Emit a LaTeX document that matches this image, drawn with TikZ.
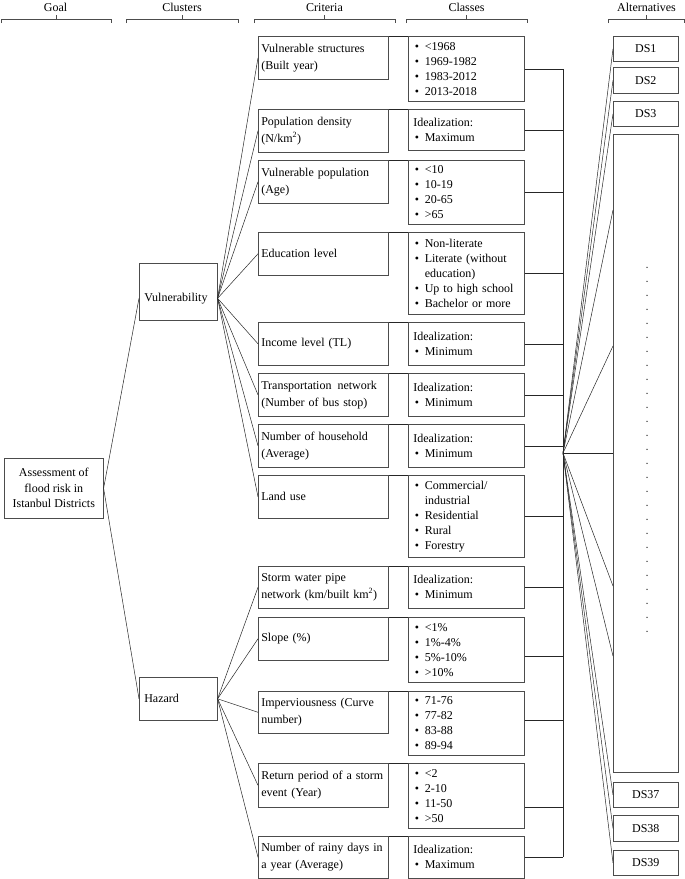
\documentclass[tikz,border=0pt]{standalone}
\usepackage{fontspec}
\setmainfont{Liberation Serif}
\usetikzlibrary{calc}
\newcommand{\bu}{\makebox[11.5pt][l]{\hspace{1.5pt}\textbullet}}
\begin{document}
\begin{tikzpicture}[x=1pt,y=-1pt,
  box/.style={draw=black!70, line width=0.6pt, rectangle, inner ysep=0pt},
  crit/.style={box, anchor=north west, inner xsep=3pt, text width=124pt, align=left,
    font=\fontsize{12}{16.7}\selectfont},
  cls/.style={box, anchor=north west, inner xsep=5pt, text width=106pt, align=left,
    font=\fontsize{12}{15}\selectfont},
  clu/.style={box, anchor=north west, inner xsep=5pt, text width=68pt, align=left,
    font=\fontsize{12}{15}\selectfont},
  alt/.style={box, anchor=north west, minimum width=65pt, inner xsep=0pt,
    font=\fontsize{12}{14}\selectfont},
  hdr/.style={anchor=base, inner sep=0pt, font=\fontsize{12}{14}\selectfont},
  con/.style={draw=black!85, line width=0.5pt},
  brk/.style={draw=black!70, line width=0.6pt}
]
\useasboundingbox (0,0) rectangle (685,879);

% headers
\node[hdr] (hgoal) at (55.5,11.5) {Goal};
\node[hdr] (hclu) at (182,11.5) {Clusters};
\node[hdr] (hcri) at (324.5,11.5) {Criteria};
\node[hdr] (hcla) at (466.5,11.5) {Classes};
\node[hdr] (halt) at (646.5,11.5) {Alternatives};
\foreach \a/\b in {1/111,126/238,254/395,406/527,608/684}{
  \draw[brk] (\a,23) -- (\a,19) -- (\b,19) -- (\b,23);
  \draw[brk] ({(\a+\b)/2},19) -- ({(\a+\b)/2},15);
}

% goal and clusters
\node[box, anchor=north west, minimum width=99pt, minimum height=60pt, align=center,
  inner xsep=2pt, font=\fontsize{12}{15.5}\selectfont] (goal) at (4,458)
  {Assessment of\\flood risk in\\Istanbul Districts};
\node[clu, minimum height=57pt, text height=21pt, text depth=2.5pt] (vul) at (139,263) {Vulnerability};
\node[clu, minimum height=43pt] (haz) at (139,677) {Hazard};

% criteria
\node[crit, minimum height=43pt] (c1) at (258,36) {Vulnerable structures\\(Built year)};
\node[crit, minimum height=43pt] (c2) at (258,109) {Population density\\(N/km\textsuperscript{2})};
\node[crit, minimum height=43pt] (c3) at (258,160) {Vulnerable population\\(Age)};
\node[crit, minimum height=43pt] (c4) at (258,232) {Education level};
\node[crit, minimum height=43pt] (c5) at (258,322) {Income level (TL)};
\node[crit, minimum height=43pt] (c6) at (258,373) {Transportation\hspace{6pt}network\\(Number of bus stop)};
\node[crit, minimum height=43pt] (c7) at (258,424) {Number of household\\(Average)};
\node[crit, minimum height=43pt] (c8) at (258,475) {Land use};
\node[crit, minimum height=42pt] (c9) at (258,566) {Storm water pipe\\network (km/built km\textsuperscript{2})};
\node[crit, minimum height=43pt] (c10) at (258,617) {Slope (\%)};
\node[crit, minimum height=42pt] (c11) at (258,691) {Imperviousness (Curve\\number)};
\node[crit, minimum height=44pt] (c12) at (258,763) {Return period of a storm\\event (Year)};
\node[crit, minimum height=42pt] (c13) at (258,836) {Number of rainy days in\\a year (Average)};

% classes
\node[cls, minimum height=65pt] (k1) at (408,36) {\bu <1968\\\bu 1969-1982\\\bu 1983-2012\\\bu 2013-2018};
\node[cls, minimum height=41pt] (k2) at (408,109) {Idealization:\\\bu Maximum};
\node[cls, minimum height=64pt] (k3) at (408,160) {\bu <10\\\bu 10-19\\\bu 20-65\\\bu >65};
\node[cls, minimum height=82pt] (k4) at (408,232) {\bu Non-literate\\\bu Literate (without\\\hspace*{11.5pt}education)\\\bu Up to high school\\\bu Bachelor or more};
\node[cls, minimum height=43pt] (k5) at (408,322) {Idealization:\\\bu Minimum};
\node[cls, minimum height=43pt] (k6) at (408,373) {Idealization:\\\bu Minimum};
\node[cls, minimum height=43pt] (k7) at (408,424) {Idealization:\\\bu Minimum};
\node[cls, minimum height=82pt] (k8) at (408,475) {\bu Commercial/\\\hspace*{11.5pt}industrial\\\bu Residential\\\bu Rural\\\bu Forestry};
\node[cls, minimum height=42pt] (k9) at (408,566) {Idealization:\\\bu Minimum};
\node[cls, minimum height=65pt] (k10) at (408,617) {\bu <1\%\\\bu 1\%-4\%\\\bu 5\%-10\%\\\bu >10\%};
\node[cls, minimum height=64pt] (k11) at (408,691) {\bu 71-76\\\bu 77-82\\\bu 83-88\\\bu 89-94};
\node[cls, minimum height=65pt] (k12) at (408,763) {\bu <2\\\bu 2-10\\\bu 11-50\\\bu >50};
\node[cls, minimum height=42pt] (k13) at (408,836) {Idealization:\\\bu Maximum};

% alternatives
\node[alt, minimum height=25pt] (ds1) at (613,36) {DS1};
\node[alt, minimum height=26pt] (ds2) at (613,67) {DS2};
\node[alt, minimum height=25pt] (ds3) at (613,101) {DS3};
\node[alt, minimum height=638pt] (big) at (613,134) {};
\node[alt, minimum height=25pt] (ds37) at (613,782) {DS37};
\node[alt, minimum height=26pt] (ds38) at (613,815) {DS38};
\node[alt, minimum height=25pt] (ds39) at (613,850) {DS39};
\foreach \j in {0,...,26}{
  \fill[black!80] (647,{267.3+14*\j}) circle (0.75pt);
}

% connectors goal -> clusters
\draw[con] (goal.east) -- ($(vul.west)+(0,6.5)$);
\draw[con] (goal.east) -- (haz.west);
% clusters -> criteria
\foreach \n in {c1,c2,c3,c4,c5,c6,c7,c8}{\draw[con] ($(vul.east)+(0,6.5)$) -- (\n.west);}
\foreach \n in {c9,c10,c11,c12,c13}{\draw[con] (haz.east) -- (\n.west);}
% criteria -> classes
\foreach \i in {1,...,13}{\draw[con] (c\i.north east) -- (k\i.north west);}

% classes -> bus
\coordinate (hub) at (563,453);
\foreach \i/\dy in {1/0,2/0,3/0,4/0,5/0,6/0,7/0,8/0,9/0,10/6,11/-3,12/11,13/0}{
  \coordinate (p\i) at ($(k\i.east)+(0,\dy)$);
  \draw[con] (p\i) -- (p\i -| hub);
}
\draw[con] (k1.east -| hub) -- (k13.east -| hub);

% bus -> alternatives
\foreach \n in {ds1,ds2,ds3,ds37,ds38,ds39}{\draw[con] (hub) -- (\n.west);}
\foreach \dy in {76,212,319,452,522}{\draw[con] (hub) -- ($(big.north west)+(0,\dy)$);}
\end{tikzpicture}
\end{document}
